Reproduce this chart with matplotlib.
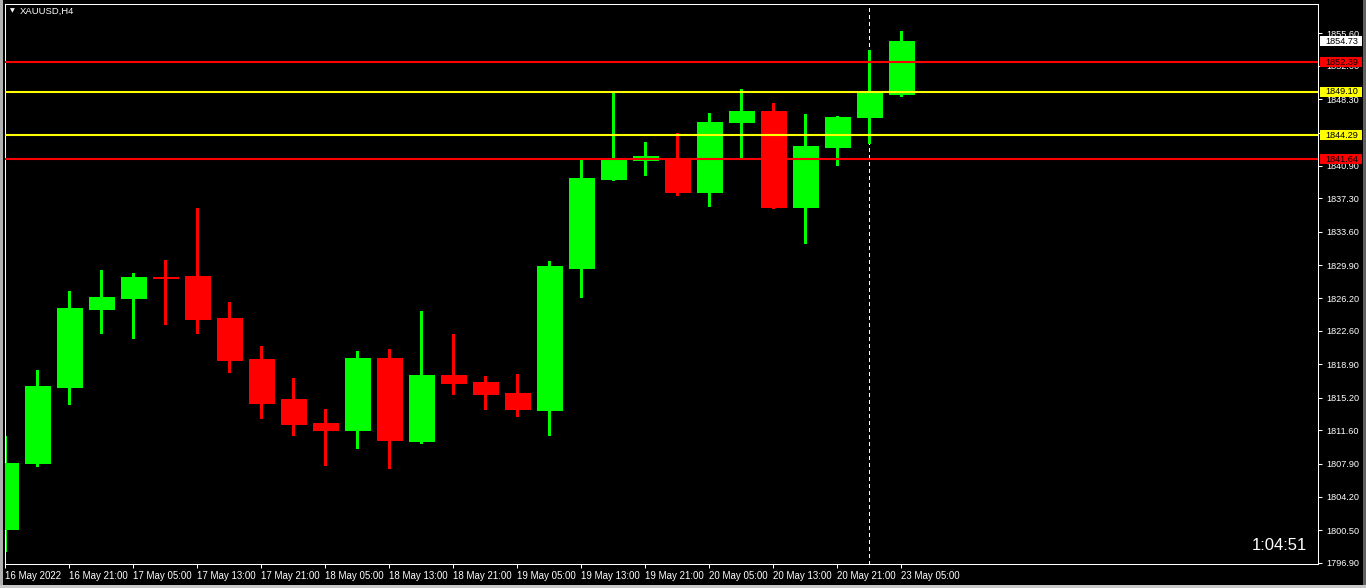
import matplotlib
matplotlib.use("Agg")
import matplotlib.pyplot as plt
from matplotlib.patches import Rectangle
import matplotlib.transforms as mtransforms

# XAUUSD H4 candles
opens = [1800.67, 1807.95, 1816.42, 1825.06, 1826.28, 1828.58, 1828.69, 1824.03, 1819.49, 1815.05,
         1812.39, 1811.65, 1819.60, 1810.43, 1817.71, 1816.94, 1815.72, 1813.87, 1829.61, 1839.48,
         1841.59, 1841.72, 1838.04, 1845.80, 1846.98, 1836.37, 1843.03, 1846.35, 1848.90]
highs = [1810.95, 1818.27, 1827.03, 1829.36, 1829.02, 1830.46, 1836.23, 1825.81, 1820.93, 1817.38,
         1813.94, 1820.37, 1820.60, 1824.81, 1822.26, 1817.60, 1817.82, 1830.35, 1841.55, 1849.20,
         1843.55, 1844.55, 1846.76, 1849.42, 1847.87, 1846.65, 1846.43, 1853.75, 1855.85]
lows = [1798.23, 1807.66, 1814.53, 1822.40, 1821.85, 1823.40, 1822.40, 1818.08, 1812.98, 1811.09,
        1807.77, 1809.65, 1807.43, 1810.21, 1815.64, 1813.98, 1813.20, 1811.09, 1826.40, 1839.37,
        1839.92, 1837.70, 1836.48, 1841.81, 1836.26, 1832.38, 1841.03, 1843.40, 1848.68]
closes = [1807.99, 1816.49, 1825.14, 1826.36, 1828.58, 1828.52, 1823.92, 1819.41, 1814.61, 1812.31,
          1811.65, 1819.60, 1810.54, 1817.71, 1816.86, 1815.64, 1813.98, 1829.80, 1839.56, 1841.55,
          1842.00, 1838.04, 1845.77, 1846.98, 1836.37, 1843.10, 1846.32, 1849.01, 1854.73]

time_labels = ["16 May 2022", "16 May 21:00", "17 May 05:00", "17 May 13:00", "17 May 21:00",
               "18 May 05:00", "18 May 13:00", "18 May 21:00", "19 May 05:00", "19 May 13:00",
               "19 May 21:00", "20 May 05:00", "20 May 13:00", "20 May 21:00", "23 May 05:00"]
price_ticks = [1855.60, 1852.00, 1848.30, 1844.60, 1840.90, 1837.30, 1833.60, 1829.90, 1826.20,
               1822.60, 1818.90, 1815.20, 1811.60, 1807.90, 1804.20, 1800.50, 1796.90]

levels = [1852.39, 1849.10, 1844.29, 1841.64]
level_colors = ["#ff0000", "#ffff00", "#ffff00", "#ff0000"]
bid = 1854.73
separator_bar = 27
countdown = "1:04:51"

W, H = 1366, 588
fig = plt.figure(figsize=(W / 100, H / 100), dpi=100, facecolor="black")
ax = fig.add_axes([5 / W, (H - 564) / H, 1313 / W, 560 / H])
ax.set_facecolor("black")

up, down = "#00ff00", "#ff0000"
idx = list(range(len(opens)))
cols = [up if c > o else down for o, c in zip(opens, closes)]

# 1px wicks, solid bodies
ax.vlines(idx, lows, highs, colors=cols, linewidth=0.8, antialiased=False, zorder=2)
ax.bar(idx, [abs(c - o) for o, c in zip(opens, closes)],
       bottom=[min(o, c) for o, c in zip(opens, closes)],
       width=0.77, color=cols, edgecolor=cols, linewidth=0.5, antialiased=False, zorder=3)

for lv, lc in zip(levels, level_colors):
    ax.axhline(lv, color=lc, linewidth=1.5, zorder=4)

ax.axvline(separator_bar, color="white", linewidth=0.8, linestyle=(0, (3, 3)),
           antialiased=False, zorder=1)

ax.set_xlim(-0.01, 41.02)
ax.set_ylim(1796.76, 1858.85)

ax.set_xticks(idx[::2])
ax.set_xticklabels(time_labels, ha="left", fontsize=7, family="Liberation Sans", color="white")
ax.yaxis.tick_right()
ax.set_yticks(price_ticks)
ax.set_yticklabels([f"{p:.2f}" for p in price_ticks], fontsize=6.6, family="Liberation Sans", color="white")
ax.tick_params(axis="x", colors="white", length=3, width=0.75, pad=2)
ax.tick_params(axis="y", colors="white", length=3, width=0.75, pad=3)
for s in ax.spines.values():
    s.set_color("white")
    s.set_linewidth(0.75)

# price labels on the right scale
trans = mtransforms.blended_transform_factory(ax.transAxes, ax.transData)
boxes = [(bid, "white")] + list(zip(levels, level_colors))
for val, bc in boxes:
    ax.add_patch(Rectangle((1315 / 1313, val - 0.55), 42 / 1313, 1.1, transform=trans,
                           facecolor=bc, edgecolor="none", clip_on=False, zorder=6))
    ax.text(1320 / 1313, val, f"{val:.2f}", transform=trans, fontsize=6.6,
            family="Liberation Sans", color="black", va="center", ha="left",
            clip_on=False, zorder=7)

# title and countdown
fig.text(12 / W, 1 - 11 / H, "\u25bc", fontsize=4.5, color="white", ha="center", va="center",
         family="DejaVu Sans")
fig.text(20 / W, 1 - 11.5 / H, "XAUUSD,H4", fontsize=6.8, color="white", va="center",
         family="Liberation Sans")
fig.text(1307 / W, 1 - 545 / H, countdown, fontsize=12, color="white", ha="right", va="center",
         family="Liberation Sans")

# window border strips
for x0, y0, w, h, c in [(0, 0, 3, H, "#b0b0b0"), (W - 3, 0, 3, H, "#606060"),
                        (0, 0, W, 3, "#c8c8c8")]:
    fig.patches.append(Rectangle((x0 / W, y0 / H), w / W, h / H, transform=fig.transFigure,
                                 facecolor=c, edgecolor="none"))

fig.savefig("out.png", dpi=100, facecolor="black")
